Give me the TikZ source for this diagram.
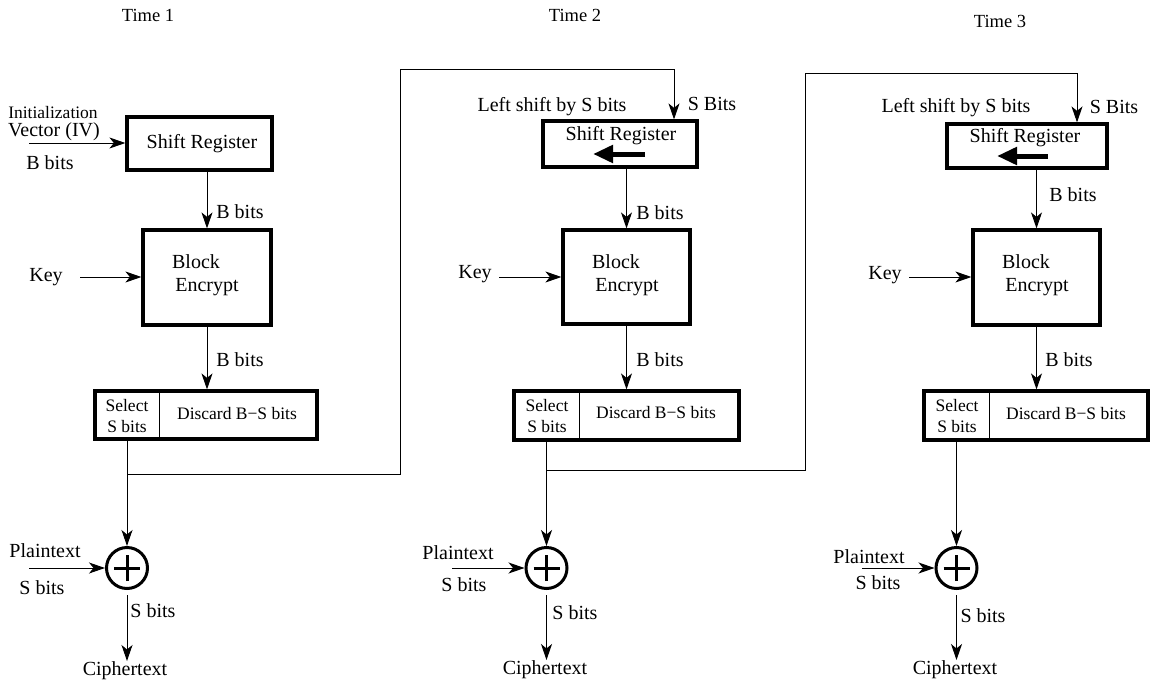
\documentclass[tikz,border=0pt]{standalone}
\usepackage{fontspec}
\setmainfont{Liberation Serif}
\usetikzlibrary{arrows.meta}
\begin{document}
\begin{tikzpicture}[x=1pt,y=-1pt,
  box/.style={draw,line width=3.2pt,inner sep=0pt},
  part/.style={inner sep=0pt,outer sep=0pt},
  ln/.style={line width=1pt},
  arr/.style={line width=1pt,-{Stealth[length=16pt,width=11pt,inset=4.5pt]}},
  lbl/.style={inner sep=0pt,font=\fontsize{20}{22}\selectfont},
  sml/.style={inner sep=0pt,font=\fontsize{17.5}{19}\selectfont},
  tm/.style={inner sep=0pt,font=\fontsize{18.5}{20}\selectfont},
  bigarr/.style={line width=5pt,-{Triangle[length=20pt,width=17pt]}},
  xor/.style={circle,draw,line width=3pt,minimum size=41pt,inner sep=0pt},
]
\useasboundingbox (0,0) rectangle (1150,682);

% ---------- Time labels ----------
\node[tm] (t1) at (148,15) {Time 1};
\node[tm] (t2) at (575,15) {Time 2};
\node[tm] (t3) at (1000,21) {Time 3};

% ---------- Column 1 ----------
\node[sml] (ivA) at (53,113) {Initialization};
\node[lbl] (ivB) at (54,132) {Vector (IV)};
\node[lbl] (ivC) at (50,163) {B bits};
\node[box,minimum width=145pt,minimum height=53pt] (sr1) at (199.5,143.5) {};
\node[lbl] (sr1t) at (202,144) {Shift Register};
\coordinate (iv) at (29,143);
\draw[arr] (iv) -- (iv -| sr1.west);

\node[box,minimum width=128pt,minimum height=95pt] (be1) at (207,277.5) {};
\node[lbl] (be1a) at (196,262) {Block};
\node[lbl] (be1b) at (207,287) {Encrypt};
\draw[arr] (sr1.south -| be1.north) -- (be1.north);
\node[lbl] (bb1a) at (240,212) {B bits};
\node[lbl] (key1) at (46,277) {Key};
\coordinate (k1) at (80,277);
\draw[arr] (k1) -- (k1 -| be1.west);

\node[box,minimum width=222pt,minimum height=48pt] (sel1) at (206,415) {};
\node[part,minimum width=64pt,minimum height=48pt] (sel1a) at (127,415) {};
\draw[ln] (sel1a.north east) -- (sel1a.south east);
\node[sml] (sel1s) at (127,406) {Select};
\node[sml] (sel1b) at (127,427) {S bits};
\node[sml] (sel1d) at (237,414) {Discard B−S bits};
\draw[arr] (be1.south) -- (be1.south |- sel1.north);
\node[lbl] (bb1b) at (240,360) {B bits};

\node[xor] (x1) at (127,568) {};
\draw[line width=3pt] ([xshift=-13pt]x1.center) -- ([xshift=13pt]x1.center);
\draw[line width=3pt] ([yshift=-13pt]x1.center) -- ([yshift=13pt]x1.center);
\draw[arr] (sel1a.south) -- (x1.north);
\node[lbl] (pt1) at (45,551) {Plaintext};
\node[lbl] (ps1) at (42,588) {S bits};
\coordinate (p1) at (29,568);
\draw[arr] (p1) -- (p1 -| x1.west);
\node[lbl] (os1) at (153,611) {S bits};
\node[lbl,anchor=north] (c1) at (125,661) {Ciphertext};
\draw[arr,shorten <=5pt] (x1.south) -- (x1.south |- c1.north);

% ---------- Column 2 ----------
\node[box,minimum width=154pt,minimum height=46pt] (sr2) at (620,144) {};
\node[lbl] (sr2t) at (621,136) {Shift Register};
\draw[bigarr] (645,154) -- (593,154);
\node[lbl] (ls2) at (552,107) {Left shift by S bits};
\node[lbl] (sb2) at (712,104) {S Bits};

\node[box,minimum width=127pt,minimum height=94pt] (be2) at (626.5,277) {};
\node[lbl] (be2a) at (616,262) {Block};
\node[lbl] (be2b) at (627,287) {Encrypt};
\draw[arr] (sr2.south -| be2.north) -- (be2.north);
\node[lbl] (bb2a) at (660,213) {B bits};
\node[lbl] (key2) at (475,274) {Key};
\coordinate (k2) at (499,277);
\draw[arr] (k2) -- (k2 -| be2.west);

\node[box,minimum width=225pt,minimum height=49pt] (sel2) at (626.5,415.5) {};
\node[part,minimum width=65pt,minimum height=49pt] (sel2a) at (546.5,415.5) {};
\draw[ln] (sel2a.north east) -- (sel2a.south east);
\node[sml] (sel2s) at (547,406) {Select};
\node[sml] (sel2b) at (547,427) {S bits};
\node[sml] (sel2d) at (656,413) {Discard B−S bits};
\draw[arr] (be2.south) -- (be2.south |- sel2.north);
\node[lbl] (bb2b) at (660,360) {B bits};

\node[xor] (x2) at (546.5,568) {};
\draw[line width=3pt] ([xshift=-13pt]x2.center) -- ([xshift=13pt]x2.center);
\draw[line width=3pt] ([yshift=-13pt]x2.center) -- ([yshift=13pt]x2.center);
\draw[arr] (sel2a.south) -- (x2.north);
\node[lbl] (pt2) at (458,553) {Plaintext};
\node[lbl] (ps2) at (464,585) {S bits};
\coordinate (p2) at (452,568);
\draw[arr] (p2) -- (p2 -| x2.west);
\node[lbl] (os2) at (575,613) {S bits};
\node[lbl,anchor=north] (c2) at (545,660) {Ciphertext};
\draw[arr,shorten <=5pt] (x2.south) -- (x2.south |- c2.north);

% ---------- Column 3 ----------
\node[box,minimum width=160pt,minimum height=44pt] (sr3) at (1027,146) {};
\node[lbl] (sr3t) at (1025,138) {Shift Register};
\draw[bigarr] (1048,156) -- (997,156);
\node[lbl] (ls3) at (956,108) {Left shift by S bits};
\node[lbl] (sb3) at (1114,107) {S Bits};

\node[box,minimum width=127pt,minimum height=95pt] (be3) at (1036.5,277.5) {};
\node[lbl] (be3a) at (1026,262) {Block};
\node[lbl] (be3b) at (1037,287) {Encrypt};
\draw[arr] (sr3.south -| be3.north) -- (be3.north);
\node[lbl] (bb3a) at (1073,195) {B bits};
\node[lbl] (key3) at (885,275) {Key};
\coordinate (k3) at (909,277);
\draw[arr] (k3) -- (k3 -| be3.west);

\node[box,minimum width=224pt,minimum height=49pt] (sel3) at (1036,415.5) {};
\node[part,minimum width=65pt,minimum height=49pt] (sel3a) at (956.5,415.5) {};
\draw[ln] (sel3a.north east) -- (sel3a.south east);
\node[sml] (sel3s) at (957,406) {Select};
\node[sml] (sel3b) at (957,427) {S bits};
\node[sml] (sel3d) at (1066,414) {Discard B−S bits};
\draw[arr] (be3.south) -- (be3.south |- sel3.north);
\node[lbl] (bb3b) at (1069,360) {B bits};

\node[xor] (x3) at (956.5,568) {};
\draw[line width=3pt] ([xshift=-13pt]x3.center) -- ([xshift=13pt]x3.center);
\draw[line width=3pt] ([yshift=-13pt]x3.center) -- ([yshift=13pt]x3.center);
\draw[arr] (sel3a.south) -- (x3.north);
\node[lbl] (pt3) at (869,557) {Plaintext};
\node[lbl] (ps3) at (878,583) {S bits};
\coordinate (p3) at (862,568);
\draw[arr] (p3) -- (p3 -| x3.west);
\node[lbl] (os3) at (983,616) {S bits};
\node[lbl,anchor=north] (c3) at (955,660) {Ciphertext};
\draw[arr,shorten <=5pt] (x3.south) -- (x3.south |- c3.north);

% ---------- Feedback lines ----------
\coordinate (j1) at (127,474);
\coordinate (f1) at (674,70);
\draw[arr] (j1) -- (400,474) -- (400,70) -- (f1) -- (f1 |- sr2.north);
\coordinate (j2) at (546.5,470);
\coordinate (f2) at (1077,74);
\draw[arr] (j2) -- (805,470) -- (805,74) -- (f2) -- (f2 |- sr3.north);
\end{tikzpicture}
\end{document}
